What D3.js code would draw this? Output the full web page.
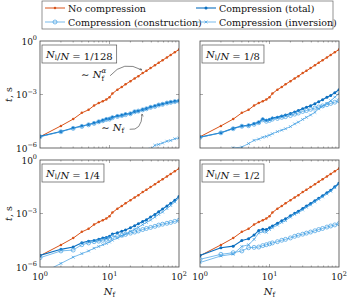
<!DOCTYPE html>
<html>
<head>
<meta charset="utf-8">
<script src="https://cdn.jsdelivr.net/npm/d3@7"></script>
<style>
body{margin:0;background:#fff}
svg{display:block}
</style>
</head>
<body>
<div id="chart"></div>
<script>
// sample sizes N_f
var nf = [1,2,3,4,5,6,7,8,9,10,11,13,15,17,20,23,26,30,34,39,45,51,58,67,76,87,100];
// all times stored as log10(t / s)
var noCompLog = [-5.37,-4.76,-4.38,-4.03,-3.86,-3.62,-3.48,-3.38,-3.28,-3.15,-2.95,-2.73,-2.58,-2.43,-2.25,-2.1,-1.97,-1.8,-1.67,-1.52,-1.36,-1.22,-1.08,-0.92,-0.78,-0.63,-0.48];
var ratios = ['1/128','1/8','1/4','1/2'];
var totalLog = [
  [-5.35,-5.07,-4.88,-4.77,-4.68,-4.6,-4.51,-4.45,-4.38,-4.36,-4.28,-4.2,-4.17,-4.1,-4.07,-3.95,-3.92,-3.84,-3.79,-3.7,-3.65,-3.57,-3.53,-3.46,-3.42,-3.38,-3.35],
  [-5.39,-5.14,-4.9,-4.77,-4.73,-4.64,-4.55,-4.38,-4.45,-4.4,-4.32,-4.27,-4.2,-4.15,-4.07,-3.98,-3.9,-3.8,-3.72,-3.63,-3.52,-3.4,-3.3,-3.16,-3.05,-2.9,-2.73],
  [-5.35,-5.01,-4.88,-4.64,-4.55,-4.51,-4.45,-4.38,-4.34,-4.28,-4.15,-4.08,-4.0,-3.92,-3.8,-3.68,-3.58,-3.45,-3.35,-3.2,-3.05,-2.9,-2.75,-2.58,-2.43,-2.25,-2.05],
  [-5.35,-4.92,-4.83,-4.51,-4.42,-4.21,-3.95,-3.88,-3.9,-3.8,-3.7,-3.55,-3.4,-3.3,-3.12,-2.98,-2.87,-2.72,-2.58,-2.44,-2.28,-2.14,-2.0,-1.83,-1.7,-1.5,-1.3]
];
var constrLog = [
  [-5.37,-5.09,-4.9,-4.79,-4.7,-4.62,-4.53,-4.47,-4.4,-4.38,-4.3,-4.23,-4.18,-4.13,-4.08,-3.97,-3.93,-3.86,-3.8,-3.72,-3.67,-3.59,-3.55,-3.48,-3.44,-3.4,-3.37],
  [-5.4,-5.15,-4.92,-4.78,-4.75,-4.67,-4.58,-4.42,-4.5,-4.45,-4.38,-4.34,-4.28,-4.24,-4.18,-4.1,-4.04,-3.95,-3.9,-3.83,-3.76,-3.7,-3.64,-3.57,-3.5,-3.43,-3.35],
  [-5.48,-5.1,-5.05,-4.75,-4.65,-4.58,-4.55,-4.5,-4.45,-4.4,-4.3,-4.28,-4.22,-4.17,-4.1,-4.04,-3.98,-3.9,-3.84,-3.78,-3.72,-3.65,-3.6,-3.55,-3.5,-3.44,-3.38],
  [-5.57,-5.29,-5.2,-5.1,-4.92,-4.9,-4.88,-4.8,-4.75,-4.7,-4.65,-4.58,-4.5,-4.45,-4.37,-4.28,-4.22,-4.16,-4.1,-4.04,-3.97,-3.9,-3.84,-3.76,-3.7,-3.64,-3.57]
];
var invLog = [
  [-8.2,-7.9,-7.7,-7.6,-7.45,-7.35,-7.3,-7.2,-7.15,-7.1,-7.0,-6.9,-6.8,-6.7,-6.6,-6.5,-6.4,-6.3,-6.2,-6.05,-5.85,-5.8,-5.72,-5.62,-5.58,-5.48,-5.44],
  [-6.6,-6.25,-6.0,-5.95,-5.75,-5.57,-5.5,-5.4,-5.35,-5.28,-5.2,-5.08,-5.0,-4.92,-4.8,-4.65,-4.55,-4.4,-4.28,-4.15,-4.0,-3.8,-3.65,-3.5,-3.35,-3.15,-2.95],
  [-6.4,-5.8,-5.45,-5.25,-5.1,-4.95,-4.85,-4.75,-4.68,-4.6,-4.5,-4.38,-4.25,-4.15,-4.0,-3.88,-3.78,-3.62,-3.5,-3.37,-3.2,-3.05,-2.92,-2.72,-2.55,-2.35,-2.12],
  [-5.75,-5.38,-5.28,-4.85,-4.75,-4.45,-4.1,-4.02,-4.05,-3.9,-3.8,-3.65,-3.5,-3.4,-3.2,-3.05,-2.95,-2.8,-2.65,-2.52,-2.35,-2.2,-2.07,-1.9,-1.75,-1.55,-1.35]
];
var seriesNames = ['No compression','Compression (total)','Compression (construction)','Compression (inversion)'];
var xTickExp = [0,1,2];
var yTickExp = [0,-3,-6];

var colOrange = '#d95319', colDark = '#0b6fc0', colLight = '#3f9de2';
var serif = "'DejaVu Serif', serif";

var W = 349, H = 300;
var pw = 139, ph = 107;
var lefts = [40,200], tops = [41,160];

var svg = d3.select('#chart').append('svg').attr('width',W).attr('height',H)
    .style('font-family',serif);

var x = d3.scaleLog().domain([1,100]).range([0,pw]);
var y = d3.scaleLog().domain([1e-6,1]).range([ph,0]);

function pts(vals){
    return nf.map(function(n,i){ return [n, Math.pow(10, vals[i])]; });
}
var line = d3.line().x(function(d){return x(d[0]);}).y(function(d){return y(d[1]);});

function drawMarker(g, kind, cx, cy, c){
    if(kind === 'dot'){
        g.append('circle').attr('cx',cx).attr('cy',cy).attr('r',1.25).attr('fill',c);
    }else if(kind === 'bigdot'){
        g.append('circle').attr('cx',cx).attr('cy',cy).attr('r',1.5).attr('fill',c);
    }else if(kind === 'circle'){
        g.append('circle').attr('cx',cx).attr('cy',cy).attr('r',2).attr('fill','none').attr('stroke',c).attr('stroke-width',0.7);
    }else{
        var s = 1.4;
        g.append('path').attr('d','M'+(cx-s)+','+(cy-s)+'L'+(cx+s)+','+(cy+s)+'M'+(cx-s)+','+(cy+s)+'L'+(cx+s)+','+(cy-s))
            .attr('stroke',c).attr('stroke-width',0.7);
    }
}

function drawSeries(g, vals, c, lw, kind){
    var data = pts(vals);
    g.append('path').attr('d',line(data)).attr('fill','none').attr('stroke',c).attr('stroke-width',lw);
    data.forEach(function(d){ drawMarker(g, kind, x(d[0]), y(d[1]), c); });
}

function sub(t, base, s, size){
    // italic symbol with upright subscript
    t.append('tspan').attr('font-style','italic').text(base);
    t.append('tspan').attr('font-size',size).attr('dy',2).text(s);
    t.append('tspan').attr('dy',-2).text('');
}

ratios.forEach(function(r,k){
    var col = k % 2, row = Math.floor(k/2);
    var g = svg.append('g').attr('transform','translate('+lefts[col]+','+tops[row]+')');
    var clipId = 'clip'+k;
    g.append('clipPath').attr('id',clipId).append('rect').attr('width',pw).attr('height',ph);

    var plot = g.append('g').attr('clip-path','url(#'+clipId+')');
    drawSeries(plot, noCompLog, colOrange, 1, 'dot');
    drawSeries(plot, totalLog[k], colDark, 1.1, 'bigdot');
    drawSeries(plot, constrLog[k], colLight, 0.7, 'circle');
    drawSeries(plot, invLog[k], colLight, 0.7, 'cross');

    // ticks (inside, on all four sides)
    var minor = [];
    [1,10].forEach(function(dec){ for(var m=2;m<=9;m++) minor.push(dec*m); });
    minor.forEach(function(v){
        g.append('line').attr('x1',x(v)).attr('x2',x(v)).attr('y1',ph).attr('y2',ph-1.5).attr('stroke','#555').attr('stroke-width',0.5);
        g.append('line').attr('x1',x(v)).attr('x2',x(v)).attr('y1',0).attr('y2',1.5).attr('stroke','#555').attr('stroke-width',0.5);
    });
    g.append('line').attr('x1',x(10)).attr('x2',x(10)).attr('y1',ph).attr('y2',ph-3).attr('stroke','#555').attr('stroke-width',0.5);
    g.append('line').attr('x1',x(10)).attr('x2',x(10)).attr('y1',0).attr('y2',3).attr('stroke','#555').attr('stroke-width',0.5);
    g.append('line').attr('x1',0).attr('x2',3).attr('y1',y(1e-3)).attr('y2',y(1e-3)).attr('stroke','#555').attr('stroke-width',0.5);
    g.append('line').attr('x1',pw).attr('x2',pw-3).attr('y1',y(1e-3)).attr('y2',y(1e-3)).attr('stroke','#555').attr('stroke-width',0.5);

    g.append('rect').attr('width',pw).attr('height',ph).attr('fill','none').attr('stroke','#444').attr('stroke-width',0.8);

    // panel label box
    var lb = g.append('g').attr('transform','translate(2,4)');
    var box = lb.append('rect').attr('height',18).attr('fill','#fff').attr('stroke','#555').attr('stroke-width',0.7);
    var t = lb.append('text').attr('x',4).attr('y',13).attr('font-size',10).attr('fill','#111');
    sub(t,'N','l',7);
    t.append('tspan').text('/');
    t.append('tspan').attr('font-style','italic').text('N');
    t.append('tspan').text(' = ' + r);
    box.attr('width', t.node().getComputedTextLength() + 8);

    // y tick labels
    if(col === 0){
        yTickExp.forEach(function(e){
            var tt = g.append('text').attr('x',-3).attr('y',y(Math.pow(10,e))+3.5).attr('text-anchor','end')
                .attr('font-size',9).attr('fill','#111');
            tt.append('tspan').text('10');
            tt.append('tspan').attr('font-size',6.5).attr('dy',-4.5).text(e === 0 ? '0' : '\u2212' + (-e));
        });
        var yl = g.append('text').attr('transform','translate(-28,'+(ph/2)+') rotate(-90)').attr('text-anchor','middle')
            .attr('font-size',9.5).attr('fill','#111');
        yl.append('tspan').attr('font-style','italic').text('t');
        yl.append('tspan').text(', s');
    }
    // x tick labels
    if(row === 1){
        xTickExp.forEach(function(e){
            var tt = g.append('text').attr('x',x(Math.pow(10,e))).attr('y',ph+13).attr('text-anchor','middle')
                .attr('font-size',9).attr('fill','#111');
            tt.append('tspan').text('10');
            tt.append('tspan').attr('font-size',6.5).attr('dy',-4.5).text(String(e));
        });
        var xl = g.append('text').attr('x',pw/2).attr('y',ph+28).attr('text-anchor','middle')
            .attr('font-size',10).attr('fill','#111');
        sub(xl,'N','f',7);
    }

    if(k === 0){
        svg.append('defs').append('marker').attr('id','arr').attr('viewBox','0 0 10 10').attr('refX',8).attr('refY',5)
            .attr('markerWidth',5).attr('markerHeight',5).attr('orient','auto')
            .append('path').attr('d','M0,1L9,5L0,9').attr('fill','none').attr('stroke','#333').attr('stroke-width',1.4);
        // ~ N_f^alpha
        var ay = y(Math.pow(10,-2.1));
        var a1 = g.append('text').attr('x',x(3.9)).attr('y',ay).attr('font-size',10).attr('fill','#111');
        a1.append('tspan').text('\u223C ');
        a1.append('tspan').attr('font-style','italic').text('N');
        var a1w = a1.node().getComputedTextLength();
        g.append('text').attr('x',x(3.9)+a1w).attr('y',ay+2.5).attr('font-size',7).attr('fill','#111').text('f');
        g.append('text').attr('x',x(3.9)+a1w).attr('y',ay-5).attr('font-size',7).attr('font-style','italic').attr('fill','#111').text('\u03B1');
        var p1 = d3.path();
        p1.moveTo(x(10.2), y(Math.pow(10,-1.95)));
        p1.quadraticCurveTo(x(16), y(Math.pow(10,-1.05)), x(29), y(Math.pow(10,-1.62)));
        g.append('path').attr('d',p1.toString()).attr('fill','none').attr('stroke','#333').attr('stroke-width',0.6).attr('marker-end','url(#arr)');
        // ~ N_f
        var a2 = g.append('text').attr('x',x(7.6)).attr('y',y(Math.pow(10,-5.05))).attr('font-size',10).attr('fill','#111');
        a2.append('tspan').text('\u223C ');
        sub(a2,'N','f',7);
        var p2 = d3.path();
        p2.moveTo(x(19.5), y(Math.pow(10,-4.95)));
        p2.quadraticCurveTo(x(29), y(Math.pow(10,-5.05)), x(29.5), y(Math.pow(10,-4.1)));
        g.append('path').attr('d',p2.toString()).attr('fill','none').attr('stroke','#333').attr('stroke-width',0.6).attr('marker-end','url(#arr)');
    }
});

// legend
var lg = svg.append('g');
lg.append('rect').attr('x',42).attr('y',1).attr('width',291).attr('height',28).attr('fill','#fff').attr('stroke','#666').attr('stroke-width',0.7);
var legCols = [45,196], legRows = [8,22];
var legStyle = [[colOrange,1,'dot'],[colDark,1.1,'bigdot'],[colLight,0.7,'circle'],[colLight,0.7,'cross']];
seriesNames.forEach(function(name,i){
    var lx = legCols[i%2], ly = legRows[Math.floor(i/2)];
    var s = legStyle[i];
    lg.append('line').attr('x1',lx).attr('x2',lx+20).attr('y1',ly).attr('y2',ly).attr('stroke',s[0]).attr('stroke-width',s[1]);
    drawMarker(lg, s[2], lx+10, ly, s[0]);
    lg.append('text').attr('x',lx+23).attr('y',ly+3.5).attr('font-size',9.5).attr('fill','#111').text(name);
});
</script>
</body>
</html>
